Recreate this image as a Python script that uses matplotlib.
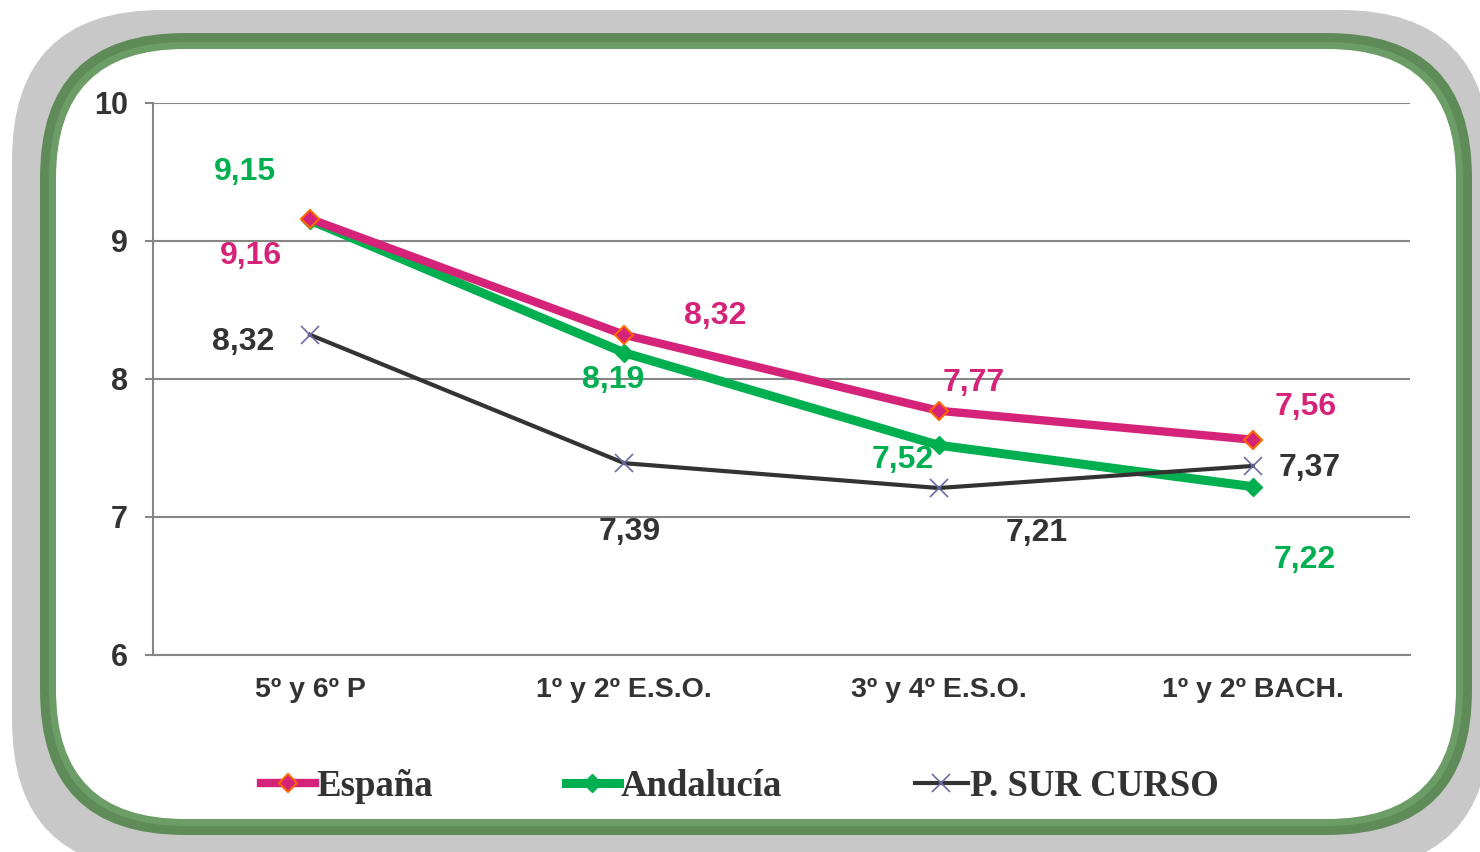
import matplotlib
matplotlib.use("Agg")
import matplotlib.pyplot as plt
from matplotlib.patches import FancyBboxPatch

# datos
cursos = ["5º y 6º P", "1º y 2º E.S.O.", "3º y 4º E.S.O.", "1º y 2º BACH."]
espana = [9.16, 8.32, 7.77, 7.56]
andalucia = [9.15, 8.19, 7.52, 7.22]
psur = [8.32, 7.39, 7.21, 7.37]
y_ticks = [6, 7, 8, 9, 10]

# desplazamiento de las etiquetas (pixeles)
off_esp = [(-59, -37), (91, 19), (35, 28), (53, 33)]
off_and = [(-65, 48), (-11, -27), (-36, -15), (52, -73)]
off_psur = [(-67, -7), (5, -69), (98, -45), (57, -2)]

c_esp = "#D6237A"
c_and = "#00B050"
c_psur = "#333333"

W, H = 1480, 852
fig = plt.figure(figsize=(W / 100, H / 100), dpi=100)
fig.patch.set_facecolor("white")

# fondo: sombra gris + marco verde redondeado
bg = fig.add_axes([0, 0, 1, 1])
bg.set_xlim(0, W)
bg.set_ylim(H, 0)
bg.axis("off")
bg.add_patch(FancyBboxPatch((12, 10), 1490 - 12, 870 - 10,
                            boxstyle="round,pad=0,rounding_size=150",
                            fc="#C8C8C8", ec="none"))
bg.add_patch(FancyBboxPatch((40, 33), 1472 - 40, 835 - 33,
                            boxstyle="round,pad=0,rounding_size=145",
                            fc="#5E8B57", ec="none"))
bg.add_patch(FancyBboxPatch((49, 42), 1463 - 49, 826 - 42,
                            boxstyle="round,pad=0,rounding_size=136",
                            fc="#6C9D66", ec="none"))
bg.add_patch(FancyBboxPatch((56, 49), 1456 - 56, 819 - 49,
                            boxstyle="round,pad=0,rounding_size=129",
                            fc="white", ec="none"))

ax = fig.add_axes([153 / W, 1 - 655 / H, (1410 - 153) / W, (655 - 103) / H])
ax.set_facecolor("none")
x = [i + 0.5 for i in range(len(cursos))]

ax.plot(x, espana, color=c_esp, lw=6, marker="D", ms=9, mfc=c_esp,
        mec="#FF6600", mew=1.5, zorder=4, label="España")
ax.plot(x, andalucia, color=c_and, lw=6.5, marker="D", ms=9, mfc=c_and,
        mec=c_and, zorder=3, label="Andalucía")
ax.plot(x, psur, color=c_psur, lw=3, marker="x", ms=13, mec="#6B6BA8",
        mew=1.2, zorder=5, label="P. SUR CURSO")

lab_font = dict(fontsize=23, fontweight="bold", family="Liberation Sans",
                ha="center", va="center")
for vals, offs, col in [(espana, off_esp, c_esp), (andalucia, off_and, c_and),
                        (psur, off_psur, c_psur)]:
    for xi, v, o in zip(x, vals, offs):
        ax.annotate(f"{v:.2f}".replace(".", ","), (xi, v), xytext=o,
                    textcoords="offset pixels", color=col, **lab_font)

ax.set_xlim(0, 4)
ax.set_ylim(6, 10)
ax.set_yticks(y_ticks)
ax.set_yticklabels([str(t) for t in y_ticks], fontsize=22, fontweight="bold",
                   family="Liberation Sans", color="#333333")
ax.set_xticks(x)
ax.set_xticklabels(cursos, fontsize=20.5, fontweight="bold",
                   family="Liberation Sans", color="#333333")
ax.tick_params(axis="y", length=6, width=1.5, color="#868686", pad=12)
ax.tick_params(axis="x", length=0, pad=16)
ax.grid(axis="y", color="#868686", lw=1.5)
ax.set_axisbelow(True)
for s in ["top", "right"]:
    ax.spines[s].set_visible(False)
for s in ["left", "bottom"]:
    ax.spines[s].set_color("#868686")
    ax.spines[s].set_linewidth(1.5)

leg = fig.legend(loc="center", bbox_to_anchor=(0.5, 1 - 786 / H), ncol=3,
                 frameon=False, handlelength=1.45, handletextpad=0.05,
                 columnspacing=3.6,
                 prop=dict(family="Liberation Serif", weight="bold", size=26.5))
for t in leg.get_texts():
    t.set_color("#333333")

fig.savefig("out.png", dpi=100)
